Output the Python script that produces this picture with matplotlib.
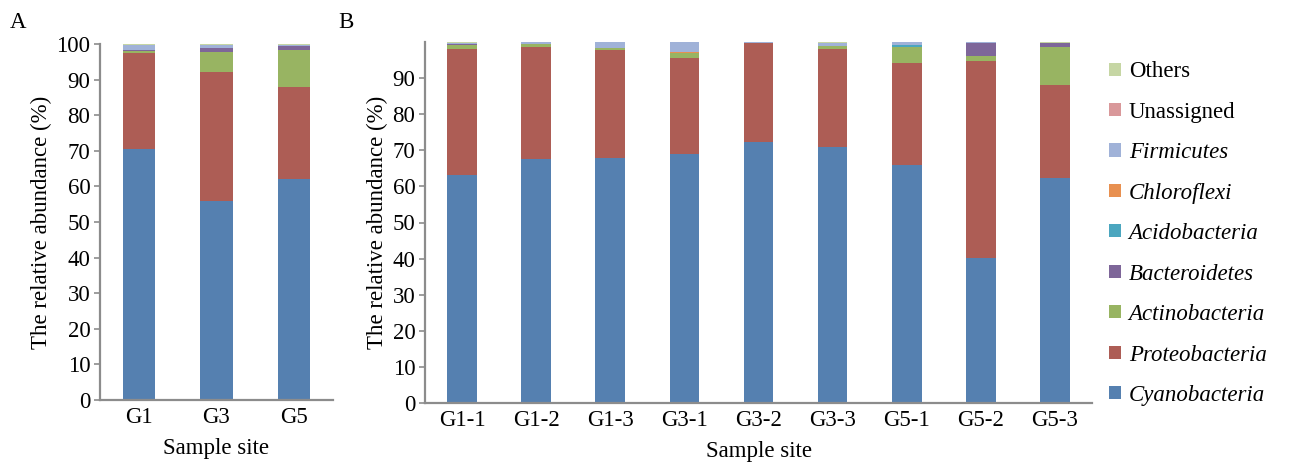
import numpy as np
import matplotlib.pyplot as plt
from matplotlib.patches import Patch

plt.rcParams['font.family'] = ['Liberation Serif', 'DejaVu Serif']

taxa = ['Cyanobacteria', 'Proteobacteria', 'Actinobacteria', 'Bacteroidetes',
        'Acidobacteria', 'Chloroflexi', 'Firmicutes', 'Unassigned', 'Others']
colors = ['#5580b0', '#ad5d55', '#98b462', '#7e6699', '#4ba6bf',
          '#e89050', '#a0b2d8', '#d9989a', '#c6d6a4']
italic = [True, True, True, True, True, True, True, False, False]

# panel A
sites_a = ['G1', 'G3', 'G5']
cyano_a = [70.5, 55.9, 62.1]
proteo_a = [26.9, 36.1, 25.9]
actino_a = [0.6, 5.7, 10.4]
bactero_a = [0.2, 1.3, 1.1]
acido_a = [0.0, 0.0, 0.0]
chloro_a = [0.1, 0.0, 0.0]
firmi_a = [1.3, 0.6, 0.2]
unass_a = [0.0, 0.0, 0.0]
others_a = [0.4, 0.4, 0.3]

# panel B
sites_b = ['G1-1', 'G1-2', 'G1-3', 'G3-1', 'G3-2', 'G3-3', 'G5-1', 'G5-2', 'G5-3']
cyano_b = [63.1, 67.5, 67.8, 68.9, 72.2, 70.8, 65.8, 40.3, 62.2]
proteo_b = [34.9, 31.2, 30.1, 26.7, 27.5, 27.3, 28.3, 54.3, 25.9]
actino_b = [1.3, 0.7, 0.3, 1.3, 0.1, 0.7, 4.6, 1.6, 10.6]
bactero_b = [0.2, 0.0, 0.0, 0.1, 0.0, 0.2, 0.0, 3.6, 0.9]
acido_b = [0.0, 0.0, 0.0, 0.0, 0.0, 0.0, 0.5, 0.0, 0.0]
chloro_b = [0.0, 0.0, 0.0, 0.3, 0.0, 0.0, 0.0, 0.0, 0.0]
firmi_b = [0.2, 0.5, 1.7, 2.6, 0.1, 0.6, 0.7, 0.1, 0.1]
unass_b = [0.0, 0.0, 0.0, 0.0, 0.0, 0.0, 0.0, 0.0, 0.0]
others_b = [0.3, 0.1, 0.1, 0.1, 0.1, 0.4, 0.1, 0.1, 0.3]

data_a = [cyano_a, proteo_a, actino_a, bactero_a, acido_a, chloro_a, firmi_a, unass_a, others_a]
data_b = [cyano_b, proteo_b, actino_b, bactero_b, acido_b, chloro_b, firmi_b, unass_b, others_b]

FS = 16.5

fig = plt.figure(figsize=(12.91, 4.63), dpi=100)
W, H = 1291, 463
ax_a = fig.add_axes([100 / W, 63 / H, 233 / W, 356 / H])
ax_b = fig.add_axes([425 / W, 60 / H, 667 / W, 361 / H])


def draw(ax, sites, data, width, yticks):
    x = np.arange(len(sites))
    bottom = np.zeros(len(sites))
    for vals, c in zip(data, colors):
        ax.bar(x, vals, width, bottom=bottom, color=c, edgecolor='none')
        bottom += np.array(vals)
    ax.set_xlim(-0.5, len(sites) - 0.5)
    ax.set_ylim(0, 100)
    ax.set_yticks(yticks)
    ax.set_xticks(x)
    ax.set_xticklabels(sites)
    for s in ['top', 'right']:
        ax.spines[s].set_visible(False)
    for s in ['left', 'bottom']:
        ax.spines[s].set_color('#8c8c8c')
        ax.spines[s].set_linewidth(1.6)
    ax.tick_params(axis='y', length=4, width=1.2, color='#8c8c8c', labelsize=FS, pad=3)
    ax.tick_params(axis='x', length=0, labelsize=FS, pad=5)
    ax.set_xlabel('Sample site', fontsize=FS, labelpad=7)
    ax.set_ylabel('The relative abundance (%)', fontsize=FS, labelpad=3)


draw(ax_a, sites_a, data_a, 0.42, range(0, 101, 10))
draw(ax_b, sites_b, data_b, 0.4, range(0, 91, 10))

fig.text(10 / W, 1 - 22 / H, 'A', fontsize=FS, va='center')
fig.text(338 / W, 1 - 22 / H, 'B', fontsize=FS, va='center')

handles = []
for name, c in zip(taxa[::-1], colors[::-1]):
    handles.append(Patch(facecolor=c, edgecolor='none', label=name))
leg = fig.legend(handles=handles, loc='upper left', bbox_to_anchor=(1100 / W, 1 - 52 / H),
                 frameon=False, fontsize=FS, handlelength=0.5, handleheight=0.5,
                 handletextpad=0.35, labelspacing=0.85, borderaxespad=0)
for t, it in zip(leg.get_texts(), italic[::-1]):
    if it:
        t.set_style('italic')

plt.savefig('out.png', dpi=100)
